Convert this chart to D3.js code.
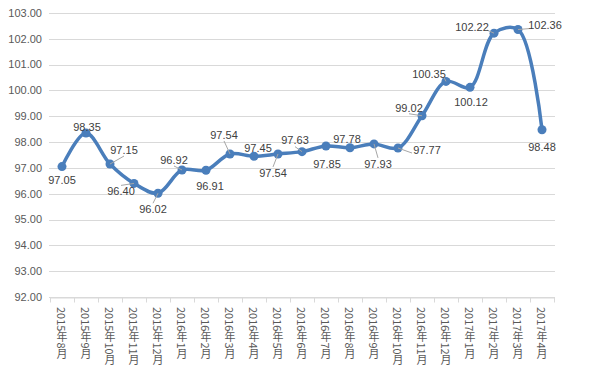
<!DOCTYPE html>
<html>
<head>
<meta charset="utf-8">
<script src="https://cdn.jsdelivr.net/npm/d3@7"></script>
<style>
  body { margin: 0; background: #fff; }
  svg { display: block; }
</style>
</head>
<body>
<svg id="chart" width="601" height="376"></svg>
<script>
// months on the x axis
var months = ["2015年8月", "2015年9月", "2015年10月", "2015年11月", "2015年12月",
              "2016年1月", "2016年2月", "2016年3月", "2016年4月", "2016年5月",
              "2016年6月", "2016年7月", "2016年8月", "2016年9月", "2016年10月",
              "2016年11月", "2016年12月", "2017年1月", "2017年2月", "2017年3月",
              "2017年4月"];

// index values
var values = [97.05, 98.35, 97.15, 96.40, 96.02,
              96.92, 96.91, 97.54, 97.45, 97.54,
              97.63, 97.85, 97.78, 97.93, 97.77,
              99.02, 100.35, 100.12, 102.22, 102.36,
              98.48];

// y axis ticks
var yTicks = d3.range(92, 104, 1);

// label placement (offset of the label centre from its point, leader line on/off)
var labelPlace = [
    [0, 14, 0], [1, -6, 0], [14, -14, 1], [-13, 8, 1], [-5, 16, 1],
    [-8, -10, 1], [4, 16, 0], [-6, -19, 1], [4, -8, 0], [-5, 19, 1],
    [-7, -11, 1], [1, 18, 0], [-3, -9, 0], [4, 20, 1], [29, 2, 1],
    [-13, -8, 1], [-17, -7, 1], [1, 15, 0], [-22, -6, 1], [27, -4, 1],
    [0, 17, 0]
];

var svg = d3.select("#chart");
var color = "#4a7ebb";

var x = d3.scaleBand()
    .domain(months)
    .range([50, 554]);

var y = d3.scaleLinear()
    .domain([92, 103])
    .range([297, 13]);

// grid lines
svg.append("g")
    .selectAll("line")
    .data(yTicks)
    .enter().append("line")
    .attr("x1", 49)
    .attr("x2", 555)
    .attr("y1", function(d) { return Math.round(y(d)) + 0.5; })
    .attr("y2", function(d) { return Math.round(y(d)) + 0.5; })
    .attr("stroke", "#d9d9d9")
    .attr("stroke-width", 1);

// y labels
svg.append("g")
    .selectAll("text")
    .data(yTicks)
    .enter().append("text")
    .attr("x", 42)
    .attr("y", function(d) { return y(d); })
    .attr("dy", "0.35em")
    .attr("text-anchor", "end")
    .attr("font-family", "Liberation Sans, Arial, sans-serif")
    .attr("font-size", 11)
    .attr("fill", "#595959")
    .text(function(d) { return d.toFixed(2); });

// x axis
var xAxis = svg.append("g")
    .attr("transform", "translate(0," + (Math.round(y(92)) + 0.5) + ")")
    .call(d3.axisBottom(x).tickSize(0).tickFormat(""));
xAxis.select(".domain").attr("stroke", "#d9d9d9");
xAxis.selectAll(".tick").remove();

var tickPos = months.map(function(m) { return x(m); }).concat([x.range()[1]]);
xAxis.selectAll("line.tk")
    .data(tickPos)
    .enter().append("line")
    .attr("class", "tk")
    .attr("x1", function(d) { return Math.round(d) + 0.5; })
    .attr("x2", function(d) { return Math.round(d) + 0.5; })
    .attr("y1", 0)
    .attr("y2", 5)
    .attr("stroke", "#d9d9d9");

svg.append("g")
    .selectAll("text")
    .data(months)
    .enter().append("text")
    .attr("x", function(d) { return x(d) + x.bandwidth() / 2; })
    .attr("y", 307)
    .attr("font-family", "Noto Sans CJK SC, sans-serif")
    .attr("font-size", 11)
    .attr("fill", "#595959")
    .style("writing-mode", "vertical-rl")
    .style("text-orientation", "mixed")
    .text(function(d) { return d; });

// line
var pts = values.map(function(v, i) {
    return { x: x(months[i]) + x.bandwidth() / 2, y: y(v), v: v, i: i };
});

var lineFunction = d3.line()
    .x(function(d) { return d.x; })
    .y(function(d) { return d.y; })
    .curve(d3.curveCatmullRom.alpha(0.5));

svg.append("path")
    .attr("d", lineFunction(pts))
    .attr("fill", "none")
    .attr("stroke", color)
    .attr("stroke-width", 3.5)
    .attr("stroke-linejoin", "round");

svg.append("g")
    .selectAll("circle")
    .data(pts)
    .enter().append("circle")
    .attr("cx", function(d) { return d.x; })
    .attr("cy", function(d) { return d.y; })
    .attr("r", 4.5)
    .attr("fill", color);

// leader lines
svg.append("g")
    .selectAll("line")
    .data(pts.filter(function(d) { return labelPlace[d.i][2]; }))
    .enter().append("line")
    .attr("x1", function(d) { return d.x; })
    .attr("y1", function(d) { return d.y; })
    .attr("x2", function(d) {
        var p = labelPlace[d.i];
        var ex = d.x + p[0];
        // stop at the label edge
        if (Math.abs(p[0]) > 16) return ex - Math.sign(p[0]) * 15;
        return ex;
    })
    .attr("y2", function(d) {
        var p = labelPlace[d.i];
        var ey = d.y + p[1];
        if (Math.abs(p[0]) > 16) return ey + 3;
        return ey - Math.sign(p[1]) * 6;
    })
    .attr("stroke", "#a6a6a6")
    .attr("stroke-width", 1);

// data labels
svg.append("g")
    .selectAll("text")
    .data(pts)
    .enter().append("text")
    .attr("x", function(d) { return d.x + labelPlace[d.i][0]; })
    .attr("y", function(d) { return d.y + labelPlace[d.i][1]; })
    .attr("dy", "0.35em")
    .attr("text-anchor", "middle")
    .attr("font-family", "Liberation Sans, Arial, sans-serif")
    .attr("font-size", 11)
    .attr("fill", "#404040")
    .text(function(d) { return d.v.toFixed(2); });
</script>
</body>
</html>
